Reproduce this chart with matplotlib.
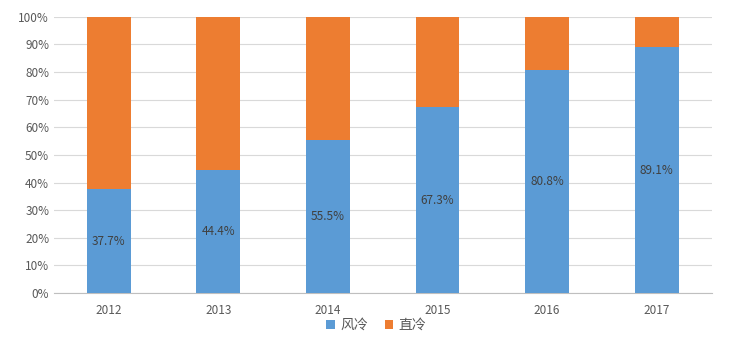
import numpy as np
import matplotlib
matplotlib.use("Agg")
import matplotlib.pyplot as plt
from matplotlib.ticker import PercentFormatter

plt.rcParams['font.family'] = ['Noto Sans CJK SC', 'DejaVu Sans']

years = ['2012', '2013', '2014', '2015', '2016', '2017']
air_cooled = [37.7, 44.4, 55.5, 67.3, 80.8, 89.1]   # 风冷
direct_cooled = [100 - v for v in air_cooled]       # 直冷

blue = '#5B9BD5'
orange = '#ED7D31'
grey = '#595959'

fig = plt.figure(figsize=(7.33, 3.44), dpi=100)
ax = fig.add_axes([0.0737, 0.148, 0.897, 0.803])

x = np.arange(len(years))
ax.bar(x, air_cooled, width=0.4, color=blue, label='风冷', zorder=3)
ax.bar(x, direct_cooled, width=0.4, bottom=air_cooled, color=orange, label='直冷', zorder=3)

for i, v in enumerate(air_cooled):
    ax.text(x[i], v / 2, f'{v:.1f}%', ha='center', va='center', fontsize=8.5, color='#404040', zorder=4)

ax.set_xlim(-0.5, len(years) - 0.5)
ax.set_ylim(0, 100)
ax.set_yticks(np.arange(0, 101, 10))
ax.yaxis.set_major_formatter(PercentFormatter(decimals=0))
ax.set_xticks(x)
ax.set_xticklabels(years)
ax.tick_params(axis='both', length=0, labelsize=8.5, colors=grey)
ax.tick_params(axis='x', pad=8)
ax.grid(axis='y', color='#D9D9D9', linewidth=0.8, zorder=0)
for s in ['top', 'right', 'left']:
    ax.spines[s].set_visible(False)
ax.spines['bottom'].set_color('#BFBFBF')

leg = ax.legend(loc='center', bbox_to_anchor=(0.49, -0.116), ncol=2, frameon=False,
                fontsize=10, handlelength=0.6, handleheight=0.6, handletextpad=0.4, columnspacing=1.2)
for t in leg.get_texts():
    t.set_color(grey)

fig.savefig('out.png', dpi=100)
